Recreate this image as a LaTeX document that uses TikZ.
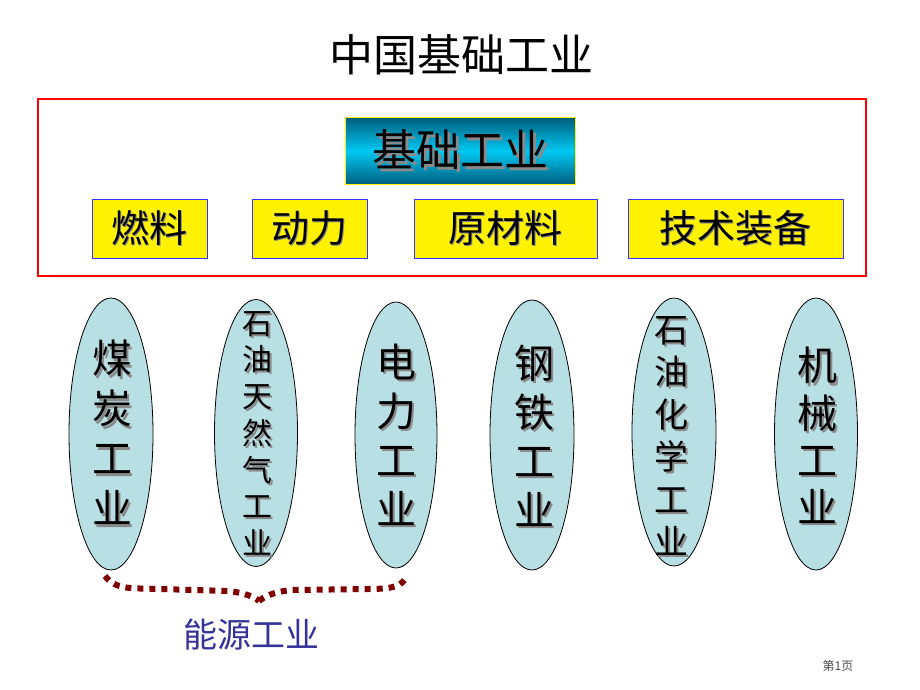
\documentclass[tikz,border=0pt]{standalone}
\usepackage{fontspec}
\setmainfont{Noto Sans CJK SC}
\usetikzlibrary{shapes.geometric}
\definecolor{ellfill}{HTML}{B8E0E4}
\definecolor{shadowgray}{HTML}{8A8A8A}
\definecolor{boxblue}{HTML}{3333FF}
\definecolor{brdark}{HTML}{800000}
\definecolor{navy}{HTML}{333399}
\definecolor{tealdark}{HTML}{005F7F}
\definecolor{tealmid}{HTML}{00C8F2}
\newcommand{\vtxt}[1]{\begin{tabular}{@{}c@{}}#1\end{tabular}}
\newcommand{\shd}[2][2pt]{\rlap{\kern#1\raisebox{-#1}{\color{shadowgray}#2}}#2}
\tikzset{
  ell/.style={ellipse, draw=black, line width=0.8pt, fill=ellfill, minimum width=84pt, minimum height=270pt, inner sep=0pt},
  ybox/.style={draw=boxblue, line width=0.8pt, fill=yellow, inner sep=0pt, font=\fontsize{38}{44}\selectfont},
  etxt/.style={inner sep=0pt, text=black},
  bracedots/.style={brdark, line width=6pt, dash pattern=on 6pt off 6pt}
}
\begin{document}
\begin{tikzpicture}[x=1pt,y=-1pt]
\useasboundingbox (0,0) rectangle (920,690);
\fill[white] (0,0) rectangle (920,690);
% title
\node[font=\fontsize{44}{50}\selectfont, inner sep=0pt] (title) at (461,55) {中国基础工业};
% red frame
\draw[red, line width=2.5pt] (38,99) rectangle (866,276);
% top teal box
\node[draw=yellow, line width=1pt, minimum width=230pt, minimum height=66pt, inner sep=0pt,
      top color=tealdark, bottom color=tealdark, middle color=tealmid,
      font=\fontsize{44}{50}\selectfont] (base) at (460,151) {\shd[3pt]{基础工业}};
% yellow boxes
\node[ybox, minimum width=115pt, minimum height=59pt] (b1) at (149.5,228.5) {\shd[1pt]{燃料}};
\node[ybox, minimum width=115pt, minimum height=59pt] (b2) at (309.5,228.5) {\shd[1pt]{动力}};
\node[ybox, minimum width=183pt, minimum height=59pt] (b3) at (505.5,228.5) {\shd[1pt]{原材料}};
\node[ybox, minimum width=215pt, minimum height=59pt] (b4) at (735.5,228.5) {\shd[1pt]{技术装备}};
% ellipses
\node[ell, minimum height=272pt] (e1) at (111,434) {};
\node[ell, minimum width=83pt, minimum height=267pt] (e2) at (256,433) {};
\node[ell, minimum width=82pt, minimum height=266pt] (e3) at (396,435) {};
\node[ell, minimum height=270pt] (e4) at (532,435) {};
\node[ell, minimum height=268pt] (e5) at (674,432) {};
\node[ell, minimum width=83pt, minimum height=272pt] (e6) at (816,434) {};
% ellipse texts
\node[etxt, font=\fontsize{40}{50}\selectfont] (t1) at (112,440) {\shd[2.5pt]{\vtxt{煤\\炭\\工\\业}}};
\node[etxt, font=\fontsize{30}{36.7}\selectfont] (t2) at (257,438) {\shd[2pt]{\vtxt{石\\油\\天\\然\\气\\工\\业}}};
\node[etxt, font=\fontsize{40}{49}\selectfont] (t3) at (396,442) {\shd[2.5pt]{\vtxt{电\\力\\工\\业}}};
\node[etxt, font=\fontsize{40}{49}\selectfont] (t4) at (534,443) {\shd[2.5pt]{\vtxt{钢\\铁\\工\\业}}};
\node[etxt, font=\fontsize{34}{42.4}\selectfont] (t5) at (671,441) {\shd[2pt]{\vtxt{石\\油\\化\\学\\工\\业}}};
\node[etxt, font=\fontsize{40}{47}\selectfont] (t6) at (817,443) {\shd[2.5pt]{\vtxt{机\\械\\工\\业}}};
% brace
\coordinate (bl) at (105,576);
\coordinate (tip) at (259,601);
\coordinate (br) at (407,576);
\draw[bracedots]
  (bl) .. controls (116,590) and (130,588) .. (160,589) -- (228,591)
  .. controls (246,593) and (254,597) .. (tip);
\draw[bracedots]
  (tip) .. controls (264,597) and (272,592) .. (292,590) -- (368,589)
  .. controls (394,589) and (402,586) .. (br);
% energy label
\node[text=navy, font=\fontsize{34}{40}\selectfont, inner sep=0pt] (energy) at (251,635) {能源工业};
% page number
\node[text=black!70, font=\fontsize{12}{14}\selectfont, inner sep=0pt] (page) at (838,666) {第1页};
\end{tikzpicture}
\end{document}
